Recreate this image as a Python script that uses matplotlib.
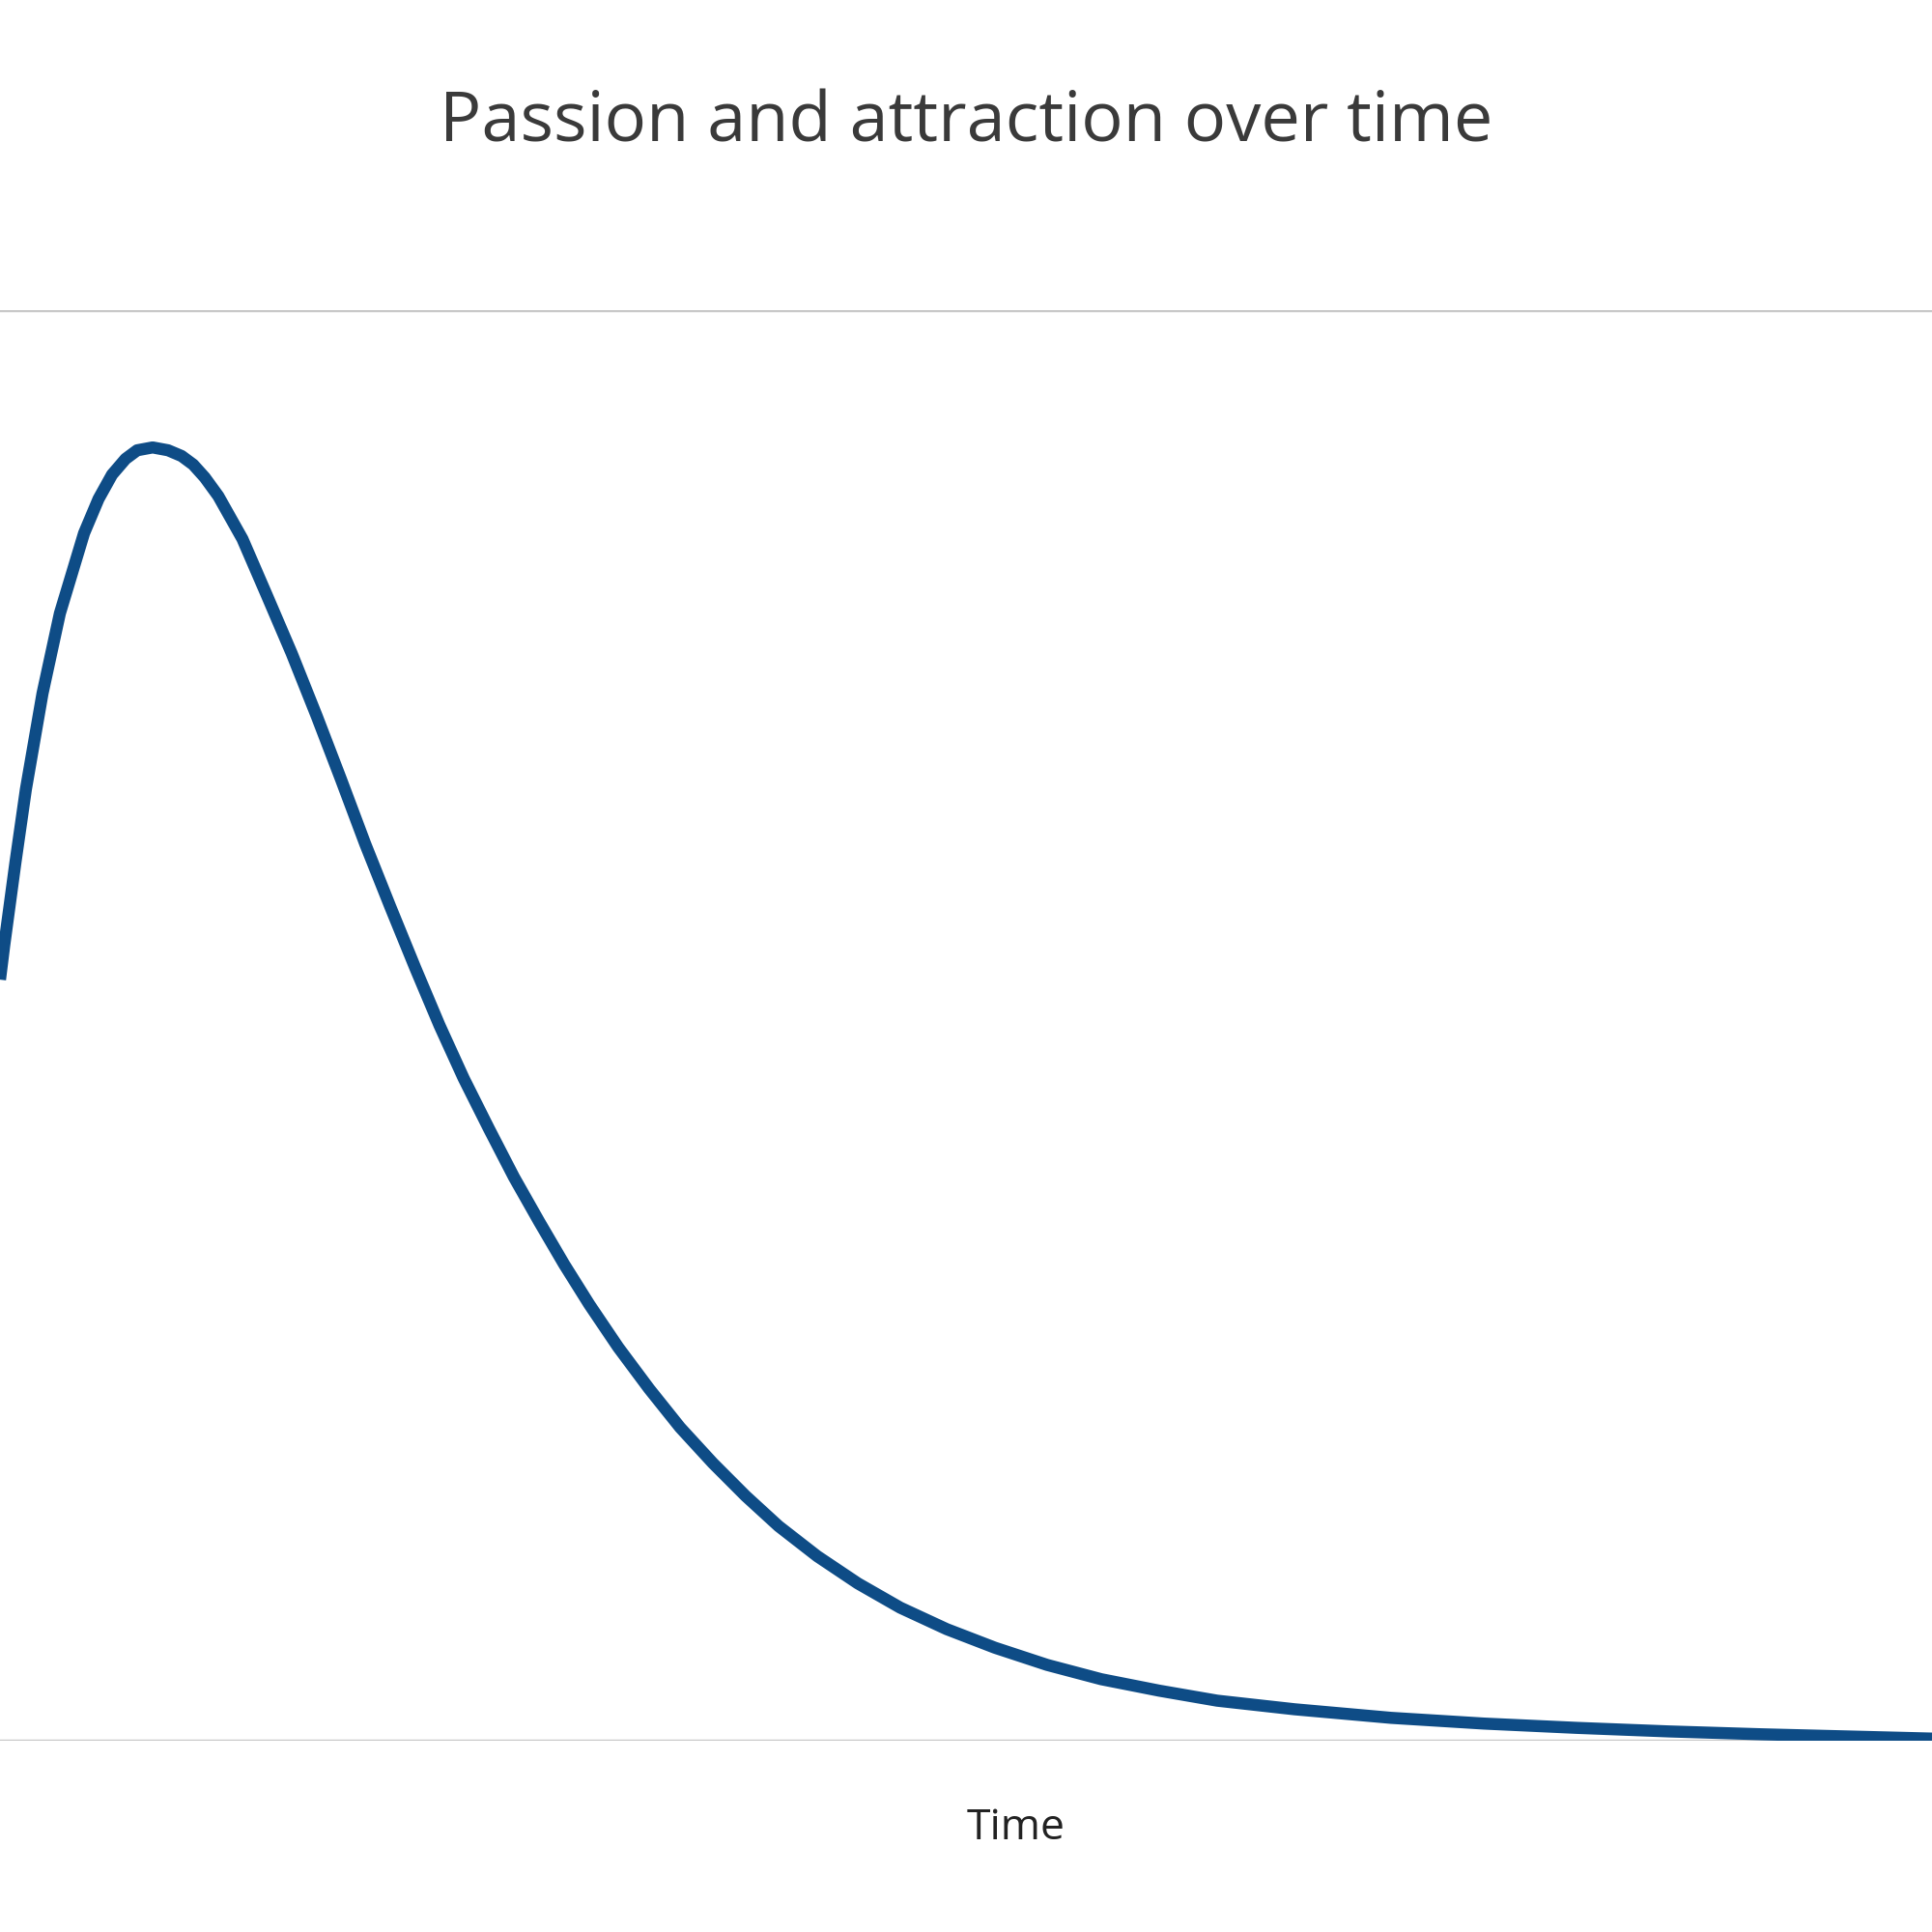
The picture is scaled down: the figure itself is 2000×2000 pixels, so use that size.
import matplotlib.pyplot as plt

# values, x and y both on a 0-100 scale
time_pts = [0, 0.22, 0.8, 1.34, 2.2, 3.1, 4.35, 5.1, 5.8, 6.5, 7.1, 7.9, 8.7,
            9.4, 10.0, 10.6, 11.3, 12.55, 13.8, 15.1, 16.4, 17.65, 18.9,
            20.2, 21.5, 22.75, 24.0, 25.3, 26.6, 27.9, 29.2, 30.5, 32.0,
            33.6, 35.2, 36.9, 38.6, 40.3, 42.3, 44.4, 46.6, 49.0, 51.5, 54.2,
            57.0, 60.0, 63.0, 67.0, 72.0, 76.8, 81.6, 86.4, 91.2, 95.6, 100]
passion = [53.2, 55.6, 61.4, 66.5, 73.2, 78.8, 84.4, 86.8, 88.5, 89.6, 90.2,
           90.4, 90.2, 89.8, 89.2, 88.3, 87.0, 84.0, 80.1, 76.0, 71.6, 67.2,
           62.7, 58.3, 54.0, 50.0, 46.3, 42.8, 39.4, 36.3, 33.3, 30.5, 27.5,
           24.6, 21.9, 19.4, 17.1, 15.0, 12.9, 11.0, 9.3, 7.8, 6.5, 5.3,
           4.3, 3.5, 2.8, 2.2, 1.6, 1.2, 0.9, 0.65, 0.45, 0.3, 0.15]

title = "Passion and attraction over time"
xlabel = "Time"

plt.rcParams['font.family'] = ['Open Sans', 'DejaVu Sans']

fig = plt.figure(figsize=(20, 20), dpi=100)
ax = fig.add_axes([0, 0.099, 1.0, 0.7405])

ax.plot(time_pts, passion, color="#0e4c86", lw=9,
        solid_capstyle="butt", solid_joinstyle="round", zorder=3)

ax.set_xlim(0, 100)
ax.set_ylim(0, 100)
ax.set_yticks([0, 100])
ax.set_xticks([])
ax.tick_params(axis="y", length=0, labelleft=False)
ax.grid(axis="y", color="#c9c9c9", lw=2.5)
for s in ax.spines.values():
    s.set_visible(False)

fig.text(0.5, 1 - 128 / 2000, title, ha="center", va="center",
         fontsize=52, color="#3a3a3a")
fig.text(0.526, 0.0535, xlabel, ha="center", va="center",
         fontsize=32, color="#222222")

fig.savefig("out.png", dpi=100, facecolor="white")
